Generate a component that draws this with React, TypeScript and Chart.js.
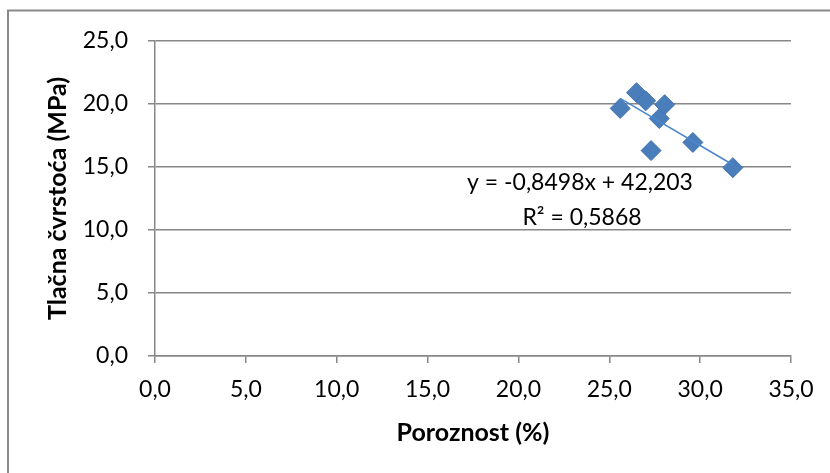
import React, { useEffect, useRef } from 'react';
import { Chart, registerables } from 'chart.js';

Chart.register(...registerables);

// ---- data ----
const porosity = [25.6, 26.5, 27.0, 28.05, 27.75, 27.3, 29.6, 31.8];
const strength = [19.65, 20.9, 20.25, 19.95, 18.85, 16.3, 16.95, 14.95];

const trendSlope = -0.8498;
const trendIntercept = 42.203;
const equationLines = ['y = -0,8498x + 42,203', 'R² = 0,5868'];

const xMin = 0;
const xMax = 35;
const xStep = 5;
const yMin = 0;
const yMax = 25;
const yStep = 5;

const xTitle = 'Poroznost (%)';
const yTitle = 'Tlačna čvrstoća (MPa)';

const FONT = 'Lato, "Open Sans", sans-serif';
const GRID = '#878787';

const fmt = (v: number | string) => Number(v).toFixed(1).replace('.', ',');

export default function App() {
  const ref = useRef<HTMLCanvasElement>(null);

  useEffect(() => {
    const xs = [Math.min(...porosity), Math.max(...porosity)];
    const trendData = xs.map((x) => ({ x, y: trendSlope * x + trendIntercept }));

    const framePlugin = {
      id: 'frame',
      beforeDraw(chart: any) {
        const ctx = chart.ctx;
        ctx.save();
        ctx.strokeStyle = '#8a8a8a';
        ctx.lineWidth = 2;
        ctx.strokeRect(8, 10.5, 2000, 2000);
        ctx.restore();
      },
      afterDraw(chart: any) {
        const ctx = chart.ctx;
        ctx.save();
        ctx.fillStyle = '#000';
        ctx.font = `23px ${FONT}`;
        ctx.textAlign = 'center';
        ctx.textBaseline = 'middle';
        ctx.fillText(equationLines[0], 580, 183);
        ctx.fillText(equationLines[1], 582, 218);
        ctx.restore();
      },
    };

    const chart = new Chart(ref.current!, {
      type: 'scatter',
      data: {
        datasets: [
          {
            type: 'line',
            data: trendData,
            borderColor: '#4a86cf',
            borderWidth: 1.5,
            pointRadius: 0,
            fill: false,
            order: 0,
          } as any,
          {
            data: porosity.map((x, i) => ({ x, y: strength[i] })),
            pointStyle: 'rectRot',
            pointRadius: 10,
            backgroundColor: '#4a7ebb',
            borderColor: '#4272ad',
            borderWidth: 1,
            showLine: false,
            order: 1,
          },
        ],
      },
      options: {
        animation: false,
        responsive: true,
        maintainAspectRatio: false,
        layout: { padding: { left: 0, top: 41, right: 39, bottom: 0 } },
        plugins: { legend: { display: false }, tooltip: { enabled: false } },
        scales: {
          x: {
            type: 'linear',
            min: xMin,
            max: xMax,
            ticks: {
              stepSize: xStep,
              callback: (v: any) => fmt(v),
              color: '#000',
              padding: 13,
              font: { family: FONT, size: 23 },
            },
            grid: {
              drawOnChartArea: false,
              drawTicks: true,
              tickLength: 7,
              color: GRID,
              lineWidth: 1.5,
            },
            border: { color: GRID, width: 1.5 },
            title: {
              display: true,
              text: xTitle,
              color: '#000',
              font: { family: FONT, size: 25, weight: 'bold' },
              padding: { top: 0, bottom: 25 },
            },
            afterFit: (s: any) => {
              s.height = 117;
            },
          },
          y: {
            type: 'linear',
            min: yMin,
            max: yMax,
            ticks: {
              stepSize: yStep,
              callback: (v: any) => fmt(v),
              color: '#000',
              padding: 20,
              font: { family: FONT, size: 23 },
            },
            grid: {
              drawTicks: true,
              tickLength: 7,
              color: GRID,
              lineWidth: 1.5,
            },
            border: { color: GRID, width: 1.5 },
            title: {
              display: true,
              text: yTitle,
              color: '#000',
              font: { family: FONT, size: 25, weight: 'bold' },
              padding: { top: 43, bottom: 0 },
            },
            afterFit: (s: any) => {
              s.width = 155;
            },
          },
        },
      } as any,
      plugins: [framePlugin],
    });
    return () => chart.destroy();
  }, []);

  return (
    <div style={{ position: 'absolute', left: 0, top: 0, width: 830, height: 473, background: '#fff' }}>
      <canvas ref={ref} style={{ display: 'block' }} />
    </div>
  );
}
